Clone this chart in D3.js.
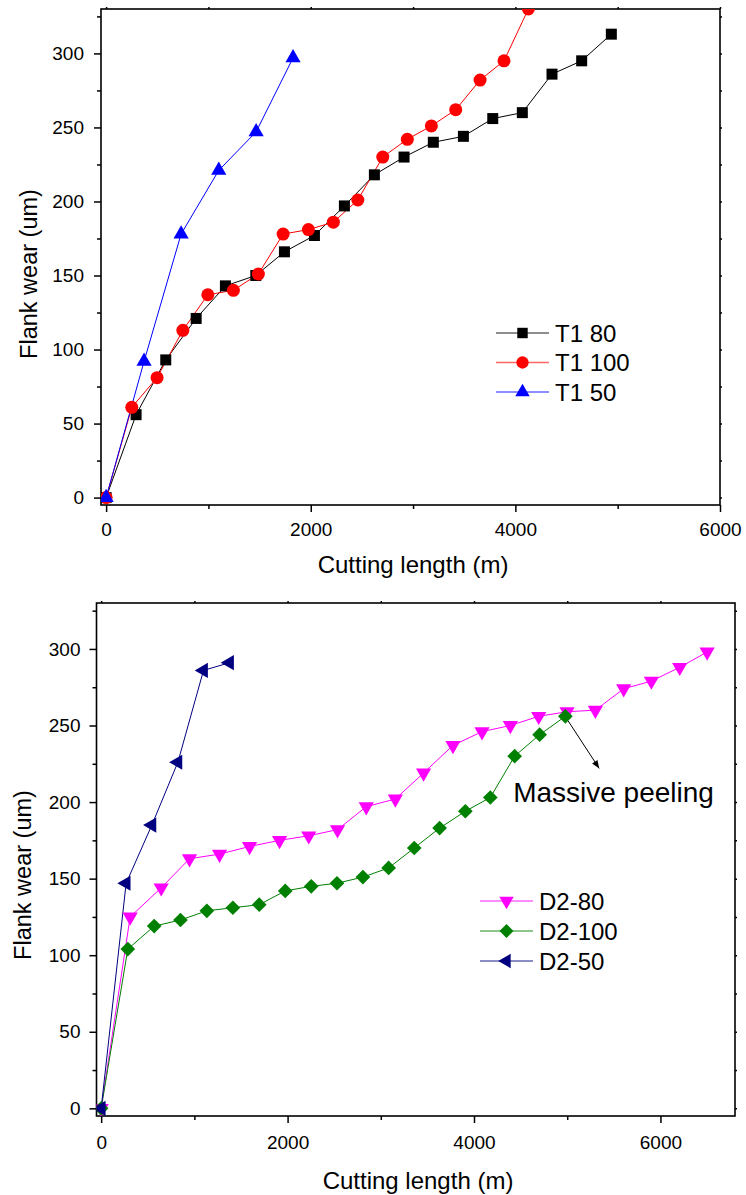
<!DOCTYPE html>
<html>
<head>
<meta charset="utf-8">
<script src="https://cdn.jsdelivr.net/npm/d3@7"></script>
<style>
  body { margin: 0; background: #fff; }
  svg { display: block; font-family: "Liberation Sans", Arial, sans-serif; }
</style>
</head>
<body>
<svg id="chart" width="746" height="1195"></svg>
<script>
// ---- data ----
const xTicks = [0, 2000, 4000, 6000];
const yTicks = [0, 50, 100, 150, 200, 250, 300];

// top panel
const t180X = [0, 293, 583, 880, 1166, 1463, 1743, 2036, 2329, 2622, 2912, 3198, 3492, 3779, 4068, 4358, 4648, 4938];
const t180Y = [0, 56, 93, 121, 143, 150, 166, 177, 197, 218, 230, 240, 244, 256, 260, 286, 295, 313];
const t1100X = [0, 251, 498, 750, 994, 1244, 1488, 1730, 1977, 2221, 2460, 2704, 2944, 3179, 3417, 3655, 3889, 4127];
const t1100Y = [0, 61, 81, 113, 137, 140, 151, 178, 181, 186, 201, 230, 242, 251, 262, 282, 295, 330];
const t150X = [0, 371, 733, 1101, 1466, 1827];
const t150Y = [0, 92, 178, 221, 247, 297];

// bottom panel
const d280X = [0, 311, 644, 948, 1270, 1592, 1914, 2227, 2536, 2844, 3156, 3459, 3774, 4086, 4390, 4694, 4998, 5302, 5606, 5903, 6207, 6501];
const d280Y = [0, 125, 144, 163, 166, 171, 175, 178, 182, 197, 202, 219, 237, 246, 250, 256, 259, 260, 274, 279, 288, 298];
const d2100X = [0, 286, 569, 851, 1134, 1413, 1696, 1975, 2254, 2530, 2808, 3084, 3359, 3631, 3907, 4175, 4436, 4704, 4980];
const d2100Y = [0, 104, 119, 123, 129, 131, 133, 142, 145, 147, 151, 157, 170, 183, 194, 203, 230, 244, 256];
const d250X = [0, 268, 544, 823, 1098, 1377];
const d250Y = [0, 147, 185, 226, 286, 291];

const zip = (xs, ys) => xs.map((x, i) => [x, ys[i]]);

const svg = d3.select("#chart");

// marker shapes
const markers = {
  square:   { type: d3.symbolSquare,   size: 121, rot: 0 },
  circle:   { type: d3.symbolCircle,   size: 133, rot: 0 },
  triangle: { type: d3.symbolTriangle, size: 100, rot: 0 },
  down:     { type: d3.symbolTriangle, size: 100, rot: 180 },
  left:     { type: d3.symbolTriangle, size: 100, rot: -90 },
  diamond:  { type: d3.symbolSquare,   size: 108, rot: 45 }
};

function drawPanel(p) {
  const x = d3.scaleLinear().domain(p.xDomain).range([p.left, p.right]);
  const y = d3.scaleLinear().domain([-5, 330]).range([p.bottom, p.top]);

  const clipId = "clip" + p.id;
  svg.append("clipPath").attr("id", clipId)
    .append("rect")
    .attr("x", p.left).attr("y", p.top)
    .attr("width", p.right - p.left).attr("height", p.bottom - p.top);

  // minor ticks
  const xMinor = d3.range(1000, p.xDomain[1], 2000);
  const yMinor = d3.range(25, 330, 50);

  const axisStyle = g => {
    g.select(".domain").remove();
    g.selectAll("line").attr("stroke", "#000").attr("stroke-width", 1.5);
    g.selectAll("text").attr("fill", "#000").attr("font-size", 19);
  };

  // bottom axis
  svg.append("g").attr("transform", `translate(0,${p.bottom})`)
    .call(d3.axisBottom(x).tickValues(xTicks).tickFormat(d3.format("d")).tickSize(7).tickPadding(p.xPad))
    .call(axisStyle);
  svg.append("g").attr("transform", `translate(0,${p.bottom})`)
    .call(d3.axisBottom(x).tickValues(xMinor).tickFormat("").tickSize(4))
    .call(axisStyle);
  // left axis
  svg.append("g").attr("transform", `translate(${p.left},0)`)
    .call(d3.axisLeft(y).tickValues(yTicks).tickSize(7).tickPadding(p.yPad))
    .call(axisStyle);
  svg.append("g").attr("transform", `translate(${p.left},0)`)
    .call(d3.axisLeft(y).tickValues(yMinor).tickFormat("").tickSize(4))
    .call(axisStyle);
  // top / right small ticks
  svg.append("g").attr("transform", `translate(0,${p.top})`)
    .call(d3.axisTop(x).tickValues(xTicks.concat(xMinor)).tickFormat("").tickSize(2))
    .call(axisStyle);
  svg.append("g").attr("transform", `translate(${p.right},0)`)
    .call(d3.axisRight(y).tickValues(yTicks.concat(yMinor)).tickFormat("").tickSize(2))
    .call(axisStyle);

  // frame
  svg.append("rect")
    .attr("x", p.left).attr("y", p.top)
    .attr("width", p.right - p.left).attr("height", p.bottom - p.top)
    .attr("fill", "none").attr("stroke", "#000").attr("stroke-width", 1.6);

  // series
  const plot = svg.append("g").attr("clip-path", `url(#${clipId})`);
  const line = d3.line().x(d => x(d[0])).y(d => y(d[1]));
  p.series.forEach(s => {
    plot.append("path")
      .attr("d", line(s.data))
      .attr("fill", "none").attr("stroke", s.color).attr("stroke-width", 1);
  });
  p.series.forEach(s => {
    const m = markers[s.marker];
    plot.selectAll(null)
      .data(s.data)
      .join("path")
      .attr("d", d3.symbol().type(m.type).size(m.size))
      .attr("transform", d => `translate(${x(d[0])},${y(d[1])}) rotate(${m.rot})`)
      .attr("fill", s.color);
  });

  // axis titles
  svg.append("text")
    .attr("x", p.xTitle[0]).attr("y", p.xTitle[1])
    .attr("text-anchor", "middle").attr("font-size", 24)
    .text("Cutting length (m)");
  svg.append("text")
    .attr("transform", `translate(${p.yTitle[0]},${p.yTitle[1]}) rotate(-90)`)
    .attr("text-anchor", "middle").attr("font-size", 23.5)
    .text("Flank wear (um)");

  // legend
  p.series.forEach((s, i) => {
    const ly = p.legend.y + i * p.legend.dy;
    const lg = svg.append("g");
    lg.append("line")
      .attr("x1", p.legend.x).attr("x2", p.legend.x + 53)
      .attr("y1", ly).attr("y2", ly)
      .attr("stroke", s.color).attr("stroke-width", 1.3).attr("stroke-opacity", 0.6);
    const m = markers[s.marker];
    lg.append("path")
      .attr("d", d3.symbol().type(m.type).size(m.size * 0.9)())
      .attr("transform", `translate(${p.legend.x + 26.5},${ly}) rotate(${m.rot})`)
      .attr("fill", s.color);
    lg.append("text")
      .attr("x", p.legend.x + 59).attr("y", ly + 8.5)
      .attr("font-size", 24)
      .text(s.name);
  });

  return { x, y };
}

drawPanel({
  id: "top", left: 101, right: 720, top: 9, bottom: 505,
  xDomain: [-50, 6000], xPad: 11, yPad: 10,
  xTitle: [413, 573], yTitle: [37, 274],
  legend: { x: 496, y: 333, dy: 29.5 },
  series: [
    { name: "T1 80", color: "#000000", marker: "square", data: zip(t180X, t180Y) },
    { name: "T1 100", color: "#ff0000", marker: "circle", data: zip(t1100X, t1100Y) },
    { name: "T1 50", color: "#0000ff", marker: "triangle", data: zip(t150X, t150Y) }
  ]
});

const bot = drawPanel({
  id: "bot", left: 96.5, right: 735, top: 603, bottom: 1116,
  xDomain: [-50, 6800], xPad: 13, yPad: 9,
  xTitle: [418, 1189], yTitle: [31, 875],
  legend: { x: 480, y: 901, dy: 30 },
  series: [
    { name: "D2-80", color: "#ff00ff", marker: "down", data: zip(d280X, d280Y) },
    { name: "D2-100", color: "#008000", marker: "diamond", data: zip(d2100X, d2100Y) },
    { name: "D2-50", color: "#000080", marker: "left", data: zip(d250X, d250Y) }
  ]
});

// annotation: massive peeling
svg.append("defs").append("marker")
  .attr("id", "arrow").attr("viewBox", "0 0 10 10")
  .attr("refX", 10).attr("refY", 5)
  .attr("markerWidth", 10).attr("markerHeight", 8)
  .attr("markerUnits", "userSpaceOnUse")
  .attr("orient", "auto")
  .append("path").attr("d", "M0,1 L10,5 L0,9 Z").attr("fill", "#000");

svg.append("line")
  .attr("x1", bot.x(5010)).attr("y1", bot.y(253))
  .attr("x2", bot.x(5343)).attr("y2", bot.y(222))
  .attr("stroke", "#000").attr("stroke-width", 1)
  .attr("marker-end", "url(#arrow)");

svg.append("text")
  .attr("x", bot.x(4420)).attr("y", bot.y(200))
  .attr("font-size", 28)
  .text("Massive peeling");
</script>
</body>
</html>
